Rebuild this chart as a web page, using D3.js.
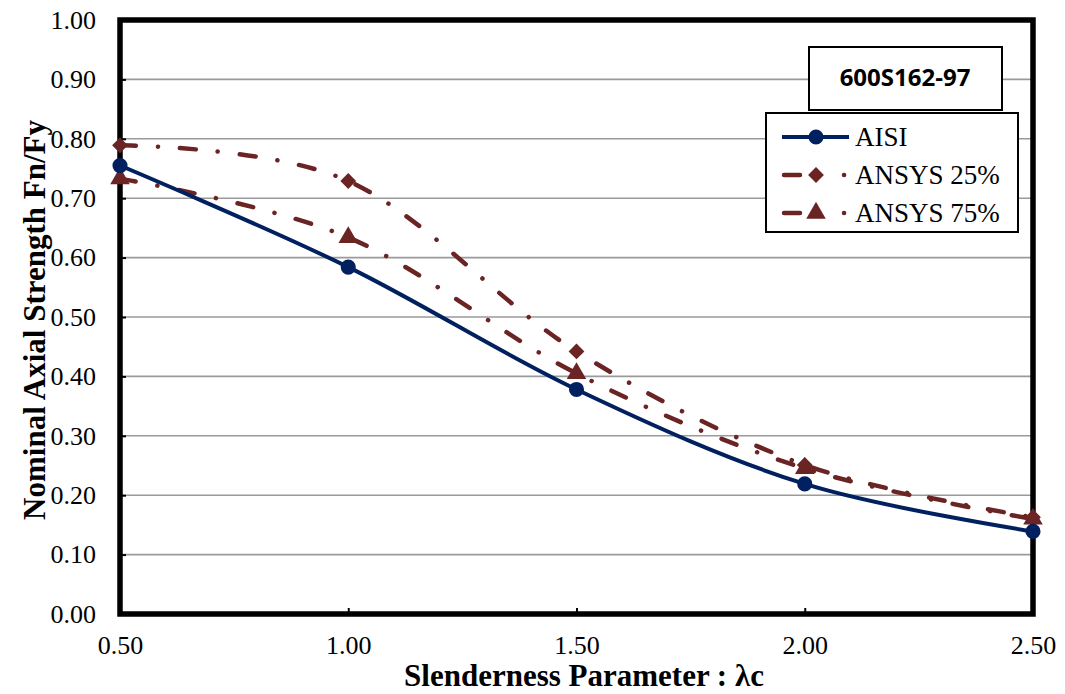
<!DOCTYPE html>
<html>
<head>
<meta charset="utf-8">
<script src="https://cdn.jsdelivr.net/npm/d3@7"></script>
<style>
  body { margin: 0; background: #fff; }
</style>
</head>
<body>
<div id="chart"></div>
<script>
// values
var lambdaC = [0.5, 1.0, 1.5, 2.0, 2.5];
var aisi = [0.755, 0.584, 0.378, 0.219, 0.139];
var ansys25 = [0.789, 0.729, 0.442, 0.251, 0.163];
var ansys75 = [0.733, 0.634, 0.405, 0.245, 0.160];
var xTicks = [0.5, 1.0, 1.5, 2.0, 2.5];
var yTicks = [0, 0.1, 0.2, 0.3, 0.4, 0.5, 0.6, 0.7, 0.8, 0.9, 1.0];
var seriesNames = ['AISI', 'ANSYS 25%', 'ANSYS 75%'];
var chartTitle = '600S162-97';

(function () {
    const W = 1065, H = 694,
        left = 120, right = 1033, top = 20, bottom = 614,
        Serif = '"Liberation Serif", "Times New Roman", serif',
        Navy = '#002060', Maroon = '#6b2424',
        DashDot = '16,22,0.1,22';

    var svg = d3.select('#chart').append('svg')
        .attr('width', W)
        .attr('height', H)
        .attr('font-family', Serif);

    var x = d3.scaleLinear().domain([0.5, 2.5]).range([left, right]),
        y = d3.scaleLinear().domain([0, 1]).range([bottom, top]);

    // gridlines
    svg.append('g')
        .selectAll('line')
        .data(yTicks.slice(1, -1))
        .enter().append('line')
        .attr('x1', left).attr('x2', right)
        .attr('y1', d => y(d)).attr('y2', d => y(d))
        .attr('stroke', '#9a9a9a')
        .attr('stroke-width', 1.6);

    // axes (ticks inward, labels drawn by the axis)
    var yAxis = svg.append('g')
        .attr('transform', `translate(${left},0)`)
        .call(d3.axisLeft(y).tickValues(yTicks).tickFormat(d3.format('.2f'))
            .tickSizeInner(-6).tickSizeOuter(0).tickPadding(24));
    yAxis.attr('font-family', Serif).attr('font-size', 26);
    yAxis.select('.domain').remove();
    yAxis.selectAll('line').attr('stroke', '#000').attr('stroke-width', 2);
    yAxis.selectAll('text').attr('fill', '#000');

    var xAxis = svg.append('g')
        .attr('transform', `translate(0,${bottom})`)
        .call(d3.axisBottom(x).tickValues(xTicks).tickFormat(d3.format('.2f'))
            .tickSizeInner(-6).tickSizeOuter(0).tickPadding(22));
    xAxis.attr('font-family', Serif).attr('font-size', 26);
    xAxis.select('.domain').remove();
    xAxis.selectAll('line').attr('stroke', '#000').attr('stroke-width', 2);
    xAxis.selectAll('text').attr('fill', '#000');

    // plot frame
    svg.append('rect')
        .attr('x', left).attr('y', top)
        .attr('width', right - left).attr('height', bottom - top)
        .attr('fill', 'none')
        .attr('stroke', '#000')
        .attr('stroke-width', 5.5);

    // axis titles
    svg.append('text')
        .attr('x', 584)
        .attr('y', 686)
        .attr('text-anchor', 'middle')
        .attr('font-size', 31)
        .attr('font-weight', 'bold')
        .text('Slenderness Parameter : λc');

    svg.append('text')
        .attr('transform', 'translate(45,320) rotate(-90)')
        .attr('text-anchor', 'middle')
        .attr('font-size', 31)
        .attr('font-weight', 'bold')
        .text('Nominal Axial Strength Fn/Fy');

    var line = d3.line()
        .x(d => x(d[0]))
        .y(d => y(d[1]))
        .curve(d3.curveCatmullRom.alpha(0));

    var series = [
        { name: seriesNames[0], vals: aisi, color: Navy, dash: null, marker: 'circle' },
        { name: seriesNames[1], vals: ansys25, color: Maroon, dash: DashDot, marker: 'diamond' },
        { name: seriesNames[2], vals: ansys75, color: Maroon, dash: DashDot, marker: 'triangle' }
    ];

    var symbols = {
        circle: d3.symbol().type(d3.symbolCircle).size(180),
        diamond: d3.symbol().type(d3.symbolSquare).size(125),
        triangle: d3.symbol().type(d3.symbolTriangle).size(165)
    };

    function drawMarker(g, s, px, py) {
        g.append('path')
            .attr('d', symbols[s.marker]())
            .attr('transform', `translate(${px},${py})` + (s.marker === 'diamond' ? ' rotate(45)' : ''))
            .attr('fill', s.color);
    }

    // draw the dashed series first so AISI sits on top, like the reference
    [series[1], series[2], series[0]].forEach(function (s) {
        var pts = lambdaC.map((v, i) => [v, s.vals[i]]);
        var g = svg.append('g');
        g.append('path')
            .datum(pts)
            .attr('d', line)
            .attr('fill', 'none')
            .attr('stroke', s.color)
            .attr('stroke-width', s.dash ? 4.5 : 4)
            .attr('stroke-linecap', s.dash ? 'round' : 'butt')
            .attr('stroke-dasharray', s.dash);
        pts.forEach(p => drawMarker(g, s, x(p[0]), y(p[1])));
    });

    // title box
    var tb = svg.append('g');
    tb.append('rect')
        .attr('x', 809).attr('y', 47)
        .attr('width', 193).attr('height', 63)
        .attr('fill', '#fff')
        .attr('stroke', '#000')
        .attr('stroke-width', 2);
    tb.append('text')
        .attr('x', 905).attr('y', 86)
        .attr('text-anchor', 'middle')
        .attr('font-family', '"Open Sans", sans-serif')
        .attr('font-weight', 'bold')
        .attr('font-size', 24)
        .text(chartTitle);

    // legend
    var lg = svg.append('g');
    lg.append('rect')
        .attr('x', 766).attr('y', 113)
        .attr('width', 252).attr('height', 119)
        .attr('fill', '#fff')
        .attr('stroke', '#000')
        .attr('stroke-width', 2);

    series.forEach(function (s, i) {
        var ly = 137 + i * 38;
        lg.append('line')
            .attr('x1', s.dash ? 784 : 782).attr('x2', 849)
            .attr('y1', ly).attr('y2', ly)
            .attr('stroke', s.color)
            .attr('stroke-width', s.dash ? 4.5 : 4)
            .attr('stroke-linecap', s.dash ? 'round' : 'butt')
            .attr('stroke-dasharray', s.dash ? '16,44,0.1,100' : null);
        drawMarker(lg, s, 816, ly);
        lg.append('text')
            .attr('x', 855).attr('y', ly + 9)
            .attr('font-size', 27)
            .text(s.name);
    });
})();
</script>
</body>
</html>
